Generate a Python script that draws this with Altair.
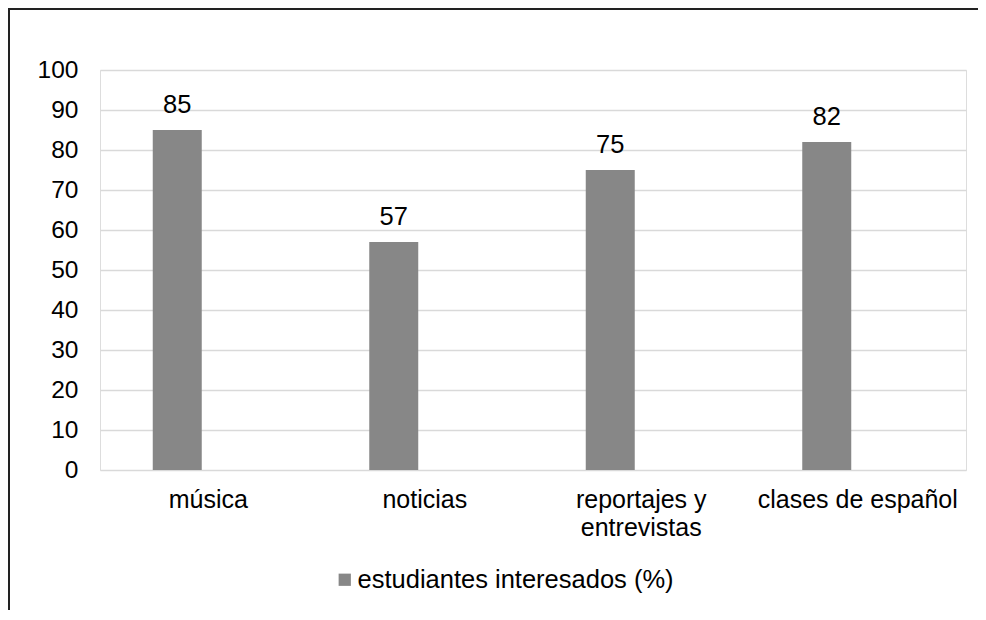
import altair as alt
import pandas as pd

categorias = ["música", "noticias", "reportajes y entrevistas", "clases de español"]
valores = [85, 57, 75, 82]
serie = "estudiantes interesados (%)"

df = pd.DataFrame({"categoria": categorias, "valor": valores, "serie": [serie] * len(categorias)})

FONT = "Liberation Sans"
BAR = "#878787"

x_enc = alt.X(
    "categoria:N",
    sort=categorias,
    scale=alt.Scale(type="band", paddingInner=0, paddingOuter=0),
    axis=alt.Axis(
        title=None,
        labelAngle=0,
        labelFontSize=25,
        labelFont=FONT,
        labelColor="#000000",
        labelPadding=17,
        labelLineHeight=28,
        labelLimit=0,
        labelExpr="datum.label == 'reportajes y entrevistas' ? ['reportajes y', 'entrevistas'] : datum.label",
        ticks=False,
        domain=False,
        grid=False,
    ),
)

y_enc = alt.Y(
    "valor:Q",
    scale=alt.Scale(domain=[0, 100], nice=False),
    axis=alt.Axis(
        title=None,
        values=list(range(0, 101, 10)),
        labelFontSize=24.5,
        labelFont=FONT,
        labelColor="#000000",
        labelPadding=22,
        ticks=False,
        domain=False,
        grid=True,
        gridColor="#d9d9d9",
        gridWidth=1.3,
    ),
)

bars = alt.Chart(df).mark_bar(size=49, xOffset=-31).encode(
    x=x_enc,
    y=y_enc,
    color=alt.Color(
        "serie:N",
        scale=alt.Scale(range=[BAR]),
        legend=alt.Legend(
            title=None,
            orient="none",
            legendX=232,
            legendY=497,
            labelFontSize=25.5,
            labelFont=FONT,
            labelColor="#000000",
            labelLimit=0,
            symbolType="square",
            symbolSize=150,
            symbolStrokeWidth=0,
            labelOffset=0,
        ),
    ),
)

labels = alt.Chart(df).mark_text(
    xOffset=-31, dy=-17, baseline="alphabetic", fontSize=25.5, font=FONT, color="#000000"
).encode(x=x_enc, y=y_enc, text="valor:Q")

border_data = alt.Data(values=[{"k": 1}])
left_border = alt.Chart(border_data).mark_rule(color="#222222", strokeWidth=2).encode(
    x=alt.value(-91), y=alt.value(-62), y2=alt.value(560)
)
top_border = alt.Chart(border_data).mark_rule(color="#222222", strokeWidth=2).encode(
    x=alt.value(-92), x2=alt.value(900), y=alt.value(-61)
)

chart = (
    alt.layer(bars, labels, left_border, top_border)
    .properties(
        width=866,
        height=400,
        autosize=alt.AutoSizeParams(type="none"),
        padding={"left": 92, "top": 62, "right": 12, "bottom": 140},
    )
    .configure_view(stroke=None)
    .configure(background="white")
)

chart.save("out.html", embed_options={"renderer": "svg", "actions": False})
